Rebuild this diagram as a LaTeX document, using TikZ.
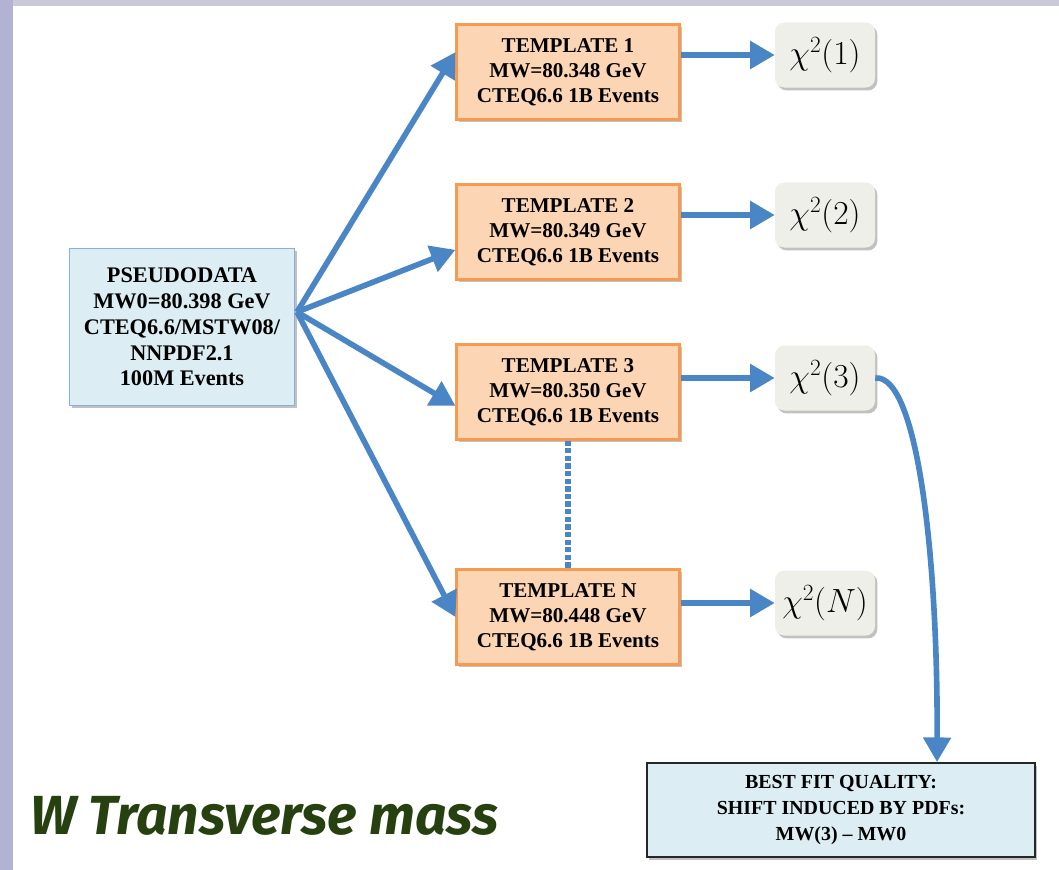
\documentclass[tikz,border=0pt]{standalone}
\usepackage{fontspec}
\setmainfont{Liberation Serif}
\newfontfamily\titlefont{Fira Sans}
\usepackage{graphicx}
\usepackage{tikz}
\usetikzlibrary{arrows.meta, positioning, shadows}
\definecolor{arrblue}{HTML}{4A86C5}
\definecolor{tplfill}{HTML}{FCD5B4}
\definecolor{tpldraw}{HTML}{F59A4E}
\definecolor{pdfill}{HTML}{DCEEF3}
\definecolor{pddraw}{HTML}{88B0DC}
\definecolor{chifill}{HTML}{EFEFE9}
\definecolor{titlegreen}{HTML}{264010}
\newcommand{\chisq}[1]{\scalebox{1.15}{$\chi^2(#1)$}}

\begin{document}
\begin{tikzpicture}[
    x=0.03cm, y=-0.03cm,
    font=\fontsize{18}{21.5}\selectfont\bfseries,
    shade/.style={drop shadow={shadow xshift=2pt, shadow yshift=-2.5pt, opacity=0.35, fill=black!70}},
    pdbox/.style={draw=pddraw, line width=1.5pt, fill=pdfill, minimum width=6.75cm, minimum height=4.71cm, align=center, font=\fontsize{19}{22}\selectfont\bfseries, shade},
    tplbox/.style={draw=tpldraw, line width=1.8pt, fill=tplfill, minimum width=6.69cm, minimum height=2.85cm, align=center, shade},
    chibox/.style={fill=chifill, rounded corners=8pt, minimum width=3.0cm, minimum height=1.95cm, font=\fontsize{24}{28}\selectfont, shade},
    resbox/.style={draw=black!85, line width=1.6pt, fill=pdfill, minimum width=11.64cm, minimum height=2.82cm, align=center, font=\fontsize{17}{22}\selectfont\bfseries, shade},
    arr/.style={-{Triangle[length=21pt, width=23pt]}, line width=4.8pt, arrblue}
  ]
    \useasboundingbox (0,0) rectangle (1059,870);
    \fill[fill={rgb,255:red,201;green,201;blue,217}] (0,0) rectangle (1059,6);
    \fill[fill={rgb,255:red,178;green,178;blue,210}] (0,0) rectangle (13,870);

    \node[pdbox]  (pseudo) at (182,327) {PSEUDODATA\\MW0=80.398 GeV\\CTEQ6.6/MSTW08/\\NNPDF2.1\\100M Events};
    \node[tplbox] (t1) at (568,72)  {TEMPLATE 1\\MW=80.348 GeV\\CTEQ6.6 1B Events};
    \node[tplbox] (t2) at (568,232) {TEMPLATE 2\\MW=80.349 GeV\\CTEQ6.6 1B Events};
    \node[tplbox] (t3) at (568,392) {TEMPLATE 3\\MW=80.350 GeV\\CTEQ6.6 1B Events};
    \node[tplbox] (tn) at (568,617) {TEMPLATE N\\MW=80.448 GeV\\CTEQ6.6 1B Events};
    \node[chibox] (c1) at (825,55)  {\chisq{1}};
    \node[chibox] (c2) at (825,215) {\chisq{2}};
    \node[chibox] (c3) at (825,378) {\chisq{3}};
    \node[chibox] (cn) at (825,603) {\chisq{N}};
    \node[resbox] (best) at (841,810) {BEST FIT QUALITY:\\SHIFT INDUCED BY PDFs:\\MW(3) -- MW0};
    \node[anchor=west, text=titlegreen, font=\titlefont\fontsize{47}{52}\selectfont\bfseries\itshape] (title) at (26,816) {W Transverse mass};

    \coordinate (fan) at (297,312);
    \draw[arr] (fan) -- (t1.170);
    \draw[arr] (fan) -- (t2.189);
    \draw[arr] (fan) -- (t3.187);
    \draw[arr] (fan) -- (tn.west);

    \draw[arr] (t1.east |- c1) -- (c1);
    \draw[arr] (t2.east |- c2) -- (c2);
    \draw[arr] (t3.east |- c3) -- (c3);
    \draw[arr] (tn.east |- cn) -- (cn);

    \draw[arrblue, line width=4.5pt, dotted] (t3.south) -- (tn.north);
    \draw[arr] (c3.east) .. controls (918,374) and (938,560) .. (best.north -| 937,0);
  \end{tikzpicture}
\end{document}
